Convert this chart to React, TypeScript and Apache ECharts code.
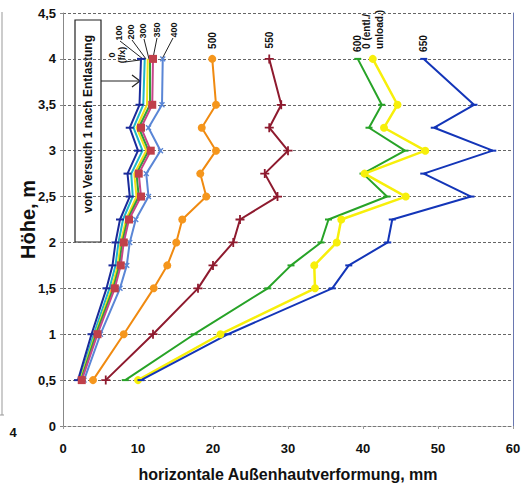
import React, { useEffect, useRef } from "react";
import * as echarts from "echarts";

// Heights (m) at which deformations were measured
const heights = [0.5, 1, 1.5, 1.75, 2, 2.25, 2.5, 2.75, 3, 3.25, 3.5, 4];

// horizontal deformation (mm) per load step
const load0 = [2.0, 3.8, 5.8, 6.6, 7.0, 7.6, 8.9, 8.6, 10.0, 8.9, 10.2, 10.4];
const load100 = [2.2, 4.1, 6.2, 7.0, 7.4, 8.0, 9.3, 9.1, 10.6, 9.4, 10.7, 10.9];
const load200 = [2.3, 4.3, 6.5, 7.3, 7.7, 8.4, 9.8, 9.5, 11.1, 9.8, 11.2, 11.3];
const load300 = [2.4, 4.4, 6.7, 7.5, 7.9, 8.6, 10.1, 9.8, 11.4, 10.1, 11.6, 11.6];
const load350 = [2.5, 4.6, 6.9, 7.7, 8.1, 8.8, 10.4, 10.1, 11.7, 10.4, 11.9, 12.0];
const load400 = [2.8, 5.0, 7.6, 8.5, 8.9, 9.7, 11.4, 11.1, 13.0, 11.4, 13.2, 13.3];
const load500 = [4.0, 8.1, 12.1, 13.9, 15.1, 15.9, 19.1, 18.3, 20.4, 18.5, 20.4, 19.9];
const load550 = [5.7, 12.0, 18.0, 20.0, 22.7, 23.6, 28.6, 26.9, 30.0, 27.5, 29.1, 27.5];
const load600 = [8.3, 17.5, 27.3, 30.4, 34.4, 35.4, 43.2, 40.0, 45.6, 40.8, 42.5, 39.3];
const unload0 = [10.0, 21.0, 33.6, 33.5, 36.5, 37.1, 45.7, 40.2, 48.3, 42.8, 44.6, 41.3];
const load650 = [10.4, 22.0, 35.9, 38.1, 43.3, 43.9, 54.4, 48.1, 57.3, 49.5, 54.8, 48.1];

const xTicks = [0, 10, 20, 30, 40, 50, 60];
const yTickStep = 0.5;

const FONT = "'Liberation Sans', Arial, sans-serif";
const PLUS = "path://M4,0H6V4H10V6H6V10H4V6H0V4H4Z";

function pts(vals: number[], endLabel?: string) {
  return vals.map((v, i) => {
    const item: any = { value: [v, heights[i]] };
    if (endLabel && i === vals.length - 1) {
      item.label = {
        show: true,
        formatter: endLabel,
        position: "top",
        distance: 6,
        rotate: 90,
        align: "left",
        verticalAlign: "middle",
        fontFamily: FONT,
        fontWeight: "bold",
        fontSize: 10,
        lineHeight: 13,
        color: "#111",
      };
    }
    return item;
  });
}

function line(name: string, vals: number[], color: string, opts: any = {}) {
  return {
    type: "line",
    name,
    data: pts(vals, opts.endLabel),
    lineStyle: { color, width: opts.width ?? 2 },
    itemStyle: { color: opts.markerColor ?? color },
    symbol: opts.symbol ?? "none",
    symbolSize: opts.symbolSize ?? 6,
    symbolRotate: opts.symbolRotate ?? 0,
    showSymbol: opts.symbol !== undefined,
    z: opts.z ?? 2,
  };
}

export default function App() {
  const ref = useRef<HTMLDivElement>(null);
  useEffect(() => {
    if (!ref.current) return;
    const chart = echarts.init(ref.current, null, { renderer: "svg" });
    const lbl = (text: string, x: number, y: number) => ({
      type: "text",
      x,
      y,
      rotation: Math.PI / 2,
      style: {
        text,
        fill: "#111",
        font: `bold 9px ${FONT}`,
        align: "center",
        verticalAlign: "middle",
        lineHeight: 10,
      },
    });
    const lead = (x1: number, y1: number, x2: number, y2: number) => ({
      type: "line",
      shape: { x1, y1, x2, y2 },
      style: { stroke: "#222", lineWidth: 1 },
    });
    chart.setOption({
      animation: false,
      backgroundColor: "#fff",
      grid: { left: 63, right: 11, top: 13, bottom: 64, containLabel: false },
      xAxis: {
        type: "value",
        min: xTicks[0],
        max: xTicks[xTicks.length - 1],
        interval: xTicks[1] - xTicks[0],
        name: "horizontale Außenhautverformung, mm",
        nameLocation: "middle",
        nameGap: 40,
        nameTextStyle: { fontFamily: FONT, fontWeight: "bold", fontSize: 16, color: "#111" },
        axisLabel: { fontFamily: FONT, fontWeight: "bold", fontSize: 13, color: "#111", margin: 16 },
        axisLine: { lineStyle: { color: "#777", type: [3, 2] } },
        axisTick: { show: true, length: 3, lineStyle: { color: "#999" } },
        splitLine: { show: false },
      },
      yAxis: [
        {
          type: "value",
          min: 0,
          max: 4.5,
          interval: yTickStep,
          name: "Höhe, m",
          nameLocation: "middle",
          nameGap: 25,
          nameMoveOverlap: false,
          nameRotate: 90,
          nameTextStyle: { fontFamily: FONT, fontWeight: "bold", fontSize: 20, color: "#111" },
          axisLabel: {
            fontFamily: FONT,
            fontWeight: "bold",
            fontSize: 13,
            color: "#111",
            margin: 7,
            formatter: (v: number) => String(v).replace(".", ","),
          },
          axisLine: { show: true, lineStyle: { color: "#888" } },
          axisTick: { show: true, length: 3, lineStyle: { color: "#888" } },
          splitLine: { show: true, lineStyle: { color: "#666", type: [3, 2], width: 1 } },
        },
        {
          type: "value",
          position: "right",
          min: 0,
          max: 4.5,
          interval: yTickStep,
          axisLabel: { show: false },
          axisTick: { show: false },
          splitLine: { show: false },
          axisLine: { show: true, lineStyle: { color: "#6a78b0" } },
        },
      ],
      series: [
        line("0", load0, "#1a2a9a", { symbol: "rect", symbolSize: [8, 2], z: 3 }),
        line("100", load100, "#1fb6c8"),
        line("200", load200, "#f2e318"),
        line("300", load300, "#2f9f38"),
        line("400", load400, "#5a86d6", { symbol: PLUS, symbolSize: 7, symbolRotate: 45 }),
        line("350", load350, "#c8468a", { symbol: "rect", symbolSize: 8, markerColor: "#c0404a", z: 4 }),
        line("500", load500, "#f08a10", { symbol: "circle", symbolSize: 8, markerColor: "#f5961c", endLabel: "500" }),
        line("550", load550, "#8e1a2e", { symbol: PLUS, symbolSize: 9, endLabel: "550" }),
        line("600", load600, "#27a327", { symbol: "rect", symbolSize: [7, 2], endLabel: "600" }),
        line("0 entl", unload0, "#f7ef0a", { symbol: "circle", symbolSize: 8, width: 2.5, endLabel: "0 (entl./\nunload.)" }),
        line("650", load650, "#1335b8", { symbol: "rect", symbolSize: [7, 2], endLabel: "650" }),
      ],
      graphic: [
        // neighbouring chart edge
        { type: "line", shape: { x1: 2, y1: 12, x2: 2, y2: 415 }, style: { stroke: "#999", lineWidth: 1 } },
        { type: "line", shape: { x1: 0, y1: 415, x2: 4, y2: 415 }, style: { stroke: "#999", lineWidth: 1 } },
        {
          type: "text",
          x: 13,
          y: 432,
          style: { text: "4", font: `bold 13px ${FONT}`, fill: "#111", align: "center", verticalAlign: "middle" },
        },
        // legend box
        { type: "rect", shape: { x: 75, y: 20, width: 26, height: 222 }, style: { fill: "#fff", stroke: "#222", lineWidth: 1.2 } },
        {
          type: "text",
          x: 88,
          y: 124,
          rotation: Math.PI / 2,
          style: {
            text: "von Versuch 1 nach Entlastung",
            font: `bold 12px ${FONT}`,
            fill: "#111",
            align: "center",
            verticalAlign: "middle",
          },
        },
        lead(101, 81, 140, 81),
        { type: "polyline", shape: { points: [[132, 75], [140, 81], [132, 87]] }, style: { stroke: "#222", lineWidth: 1.2, fill: "none" } },
        // cluster labels
        lbl("0\n(f/x)", 117, 55),
        lbl("100", 119, 33),
        lbl("200", 131, 32),
        lbl("300", 143, 31),
        lbl("350", 157, 30),
        lbl("400", 174, 30),
        lead(125, 62, 140, 60),
        lead(120, 41, 143, 59),
        lead(132, 40, 146, 59),
        lead(144, 39, 149, 59),
        lead(157, 38, 153, 58),
        lead(173, 38, 162, 59),
      ],
    });
    return () => chart.dispose();
  }, []);
  return (
    <div
      ref={ref}
      style={{ position: "fixed", left: 0, top: 0, width: 524, height: 490, background: "#fff" }}
    />
  );
}
